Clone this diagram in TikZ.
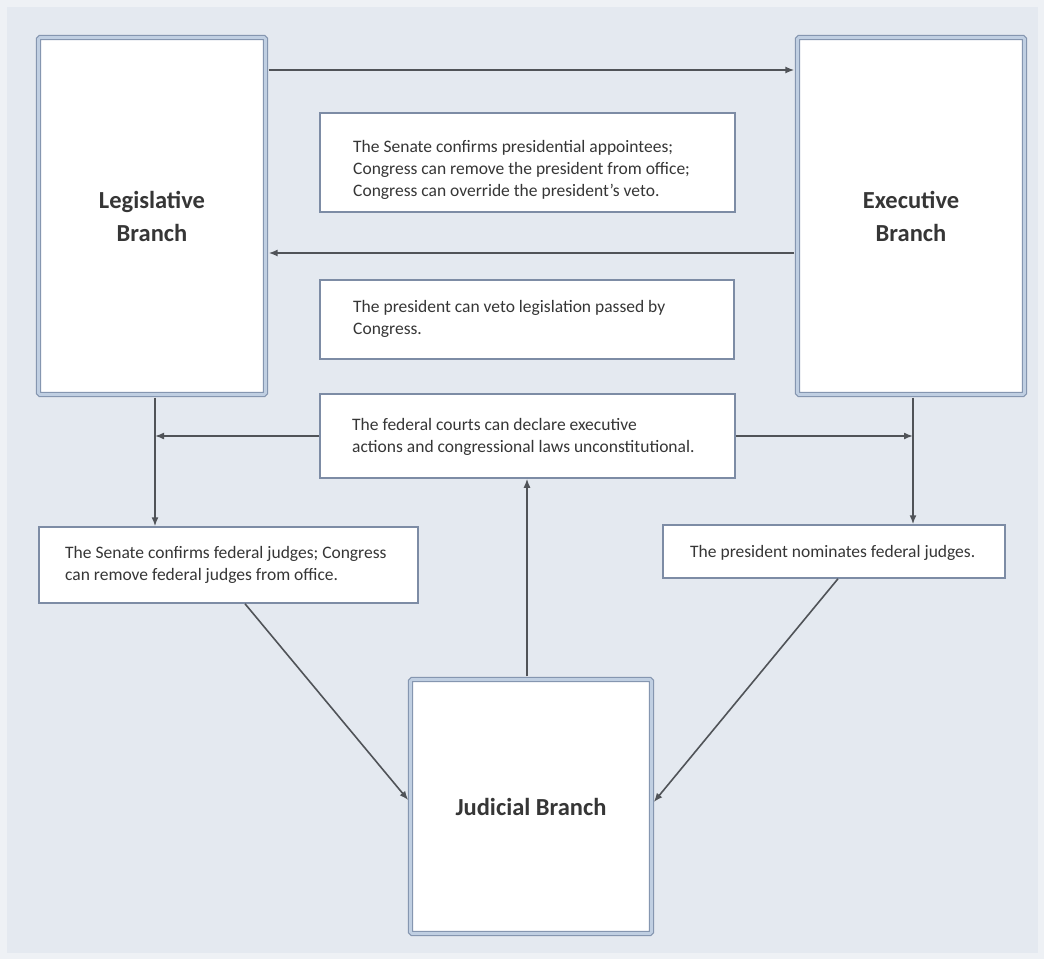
\documentclass[tikz,border=0pt]{standalone}
\usepackage{fontspec}
\setmainfont{Carlito}
\usetikzlibrary{arrows.meta,fit}
\definecolor{pagec}{HTML}{EEF1F5}
\definecolor{bgc}{HTML}{E4E9F0}
\definecolor{bordc}{HTML}{8596B0}
\definecolor{dblc}{HTML}{C0CFE2}
\definecolor{boxc}{HTML}{7D8CA5}
\definecolor{arrc}{HTML}{505358}
\definecolor{txtc}{HTML}{363636}
\tikzset{
  branch/.style={draw=bordc, double=dblc, double distance=2.6pt, line width=1.3pt,
    fill=white, rounded corners=1.5pt, align=center, text=txtc,
    font=\bfseries\fontsize{24.5}{33}\selectfont},
  infobox/.style={draw=boxc, line width=1.5pt, fill=white, inner sep=0pt},
  infotext/.style={anchor=west, align=left, inner sep=0pt, text=txtc,
    font=\fontsize{17.5}{21.8}\selectfont},
  arr/.style={draw=arrc, line width=1.6pt, -{Latex[length=9pt,width=7pt]}},
  plain/.style={draw=arrc, line width=1.6pt}
}
\begin{document}
\begin{tikzpicture}[x=1pt,y=-1pt]
\useasboundingbox (0,0) rectangle (1044,959);
\fill[pagec] (0,0) rectangle (1044,959);
\fill[bgc] (7,7) rectangle (1038,953);

% the three branches
\node[branch, minimum width=227pt, minimum height=357pt] (leg) at (152,216) {Legislative\\Branch};
\node[branch, minimum width=227pt, minimum height=357pt] (exec) at (911,216) {Executive\\Branch};
\node[branch, minimum width=241pt, minimum height=254pt] (jud) at (531,806.5) {Judicial Branch};

% boxes describing the checks
\node[infobox, fit={(320,113) (735,212)}] (b1) {};
\node[infotext] (t1) at (353,170) {The Senate confirms presidential appointees;\\Congress can remove the president from office;\\Congress can override the president’s veto.};

\node[infobox, fit={(320,280) (734,359)}] (b2) {};
\node[infotext] (t2) at (353,319) {The president can veto legislation passed by\\Congress.};

\node[infobox, fit={(320,394) (735,478)}] (b3) {};
\node[infotext] (t3) at (352,437) {The federal courts can declare executive\\actions and congressional laws unconstitutional.};

\node[infobox, fit={(39,527) (418,603)}] (b4) {};
\node[infotext] (t4) at (65,565) {The Senate confirms federal judges; Congress\\can remove federal judges from office.};

\node[infobox, fit={(663,525) (1005,578)}] (b5) {};
\node[infotext] (t5) at (690,553) {The president nominates federal judges.};

% lanes used by the connectors
\coordinate (ytop) at (0,70);
\coordinate (ymid) at (0,253);
\coordinate (lx) at (155,0);
\coordinate (rx) at (913,0);
\coordinate (jx) at (527,0);
\coordinate (sx) at (245,0);
\coordinate (px) at (838,0);
\coordinate (jl) at (0,802);
\coordinate (jr) at (0,804);

% connectors
\draw[arr, shorten <=2.5pt, shorten >=2.5pt] (leg.east |- ytop) -- (exec.west |- ytop);
\draw[arr, shorten <=2.5pt, shorten >=2.5pt] (exec.west |- ymid) -- (leg.east |- ymid);
\draw[arr, shorten <=2.5pt] (leg.south -| lx) -- (b4.north -| lx);
\draw[arr, shorten <=2.5pt] (exec.south -| rx) -- (b5.north -| rx);
\draw[arr] (b3.west) -- (b3.west -| lx);
\draw[arr] (b3.east) -- (b3.east -| rx);
\draw[arr, shorten <=2.5pt] (jud.north -| jx) -- (b3.south -| jx);
\draw[arr, shorten >=2.5pt] (b4.south -| sx) -- (jud.west |- jl);
\draw[arr, shorten >=2.5pt] (b5.south -| px) -- (jud.east |- jr);
\end{tikzpicture}
\end{document}
